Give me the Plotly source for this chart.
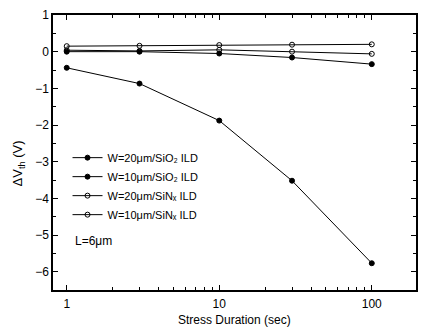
import plotly.graph_objects as go

times = [1, 3, 10, 30, 100]
w20_sio2 = [-0.44, -0.87, -1.88, -3.52, -5.77]
w10_sio2 = [0.0, 0.0, -0.05, -0.16, -0.34]
w20_sin = [0.15, 0.16, 0.18, 0.19, 0.2]
w10_sin = [0.04, 0.02, 0.05, 0.0, -0.06]

names = ["W=20μm/SiO₂ ILD", "W=10μm/SiO₂ ILD",
         "W=20μm/SiNₓ ILD", "W=10μm/SiNₓ ILD"]
series = [w20_sio2, w10_sio2, w20_sin, w10_sin]
symbols = ["circle", "circle", "circle-open", "circle-open"]

fig = go.Figure()
for nm, ys, sym in zip(names, series, symbols):
    fig.add_trace(go.Scatter(x=times, y=ys, name=nm, mode="lines+markers",
                             line=dict(color="black", width=1),
                             marker=dict(symbol=sym, size=5, color="black",
                                         line=dict(color="black", width=1))))

fig.add_annotation(text="L=6μm", x=0.055, y=0.178, xref="paper", yref="paper",
                   xanchor="left", yanchor="middle", showarrow=False,
                   font=dict(size=12, color="black"))
fig.add_annotation(text="Stress Duration (sec)", x=0.5, y=-0.108, xref="paper", yref="paper",
                   xanchor="center", yanchor="middle", showarrow=False,
                   font=dict(size=12, color="black"))
fig.add_annotation(text="ΔV<sub>th</sub> (V)", x=-0.094, y=0.46, xref="paper", yref="paper",
                   xanchor="center", yanchor="middle", showarrow=False, textangle=-90,
                   font=dict(size=13, color="black"))

axis_common = dict(showline=True, linecolor="black", linewidth=1.5, mirror="allticks",
                   ticks="inside", ticklen=5, tickcolor="black", showgrid=False,
                   zeroline=False, tickfont=dict(size=12, color="black"))
fig.update_xaxes(type="log", range=[-0.09, 2.29], tickvals=[1, 10, 100],
                 ticktext=["1", "10", "100"], ticklabelstandoff=2,
                 minor=dict(ticks="inside", ticklen=3, tickcolor="black",
                            tickvals=[2,3,4,5,6,7,8,9,20,30,40,50,60,70,80,90]),
                 **axis_common)
fig.update_yaxes(range=[-6.5, 1.0], tickvals=[-6, -5, -4, -3, -2, -1, 0, 1],
                 minor=dict(ticks="inside", ticklen=3, tickcolor="black", dtick=0.5),
                 **axis_common)

fig.update_layout(width=422, height=331, margin=dict(l=53, r=4, t=15, b=41),
                  plot_bgcolor="white", paper_bgcolor="white", showlegend=True,
                  font=dict(family="Liberation Sans, Arial, sans-serif", color="black"),
                  legend=dict(x=0.04, y=0.534, xanchor="left", yanchor="top",
                              bgcolor="rgba(0,0,0,0)", font=dict(size=11),
                              tracegroupgap=0, itemwidth=30))
fig.write_html("out.html", config={"displayModeBar": False},
               post_script="document.body.style.margin='0';")
